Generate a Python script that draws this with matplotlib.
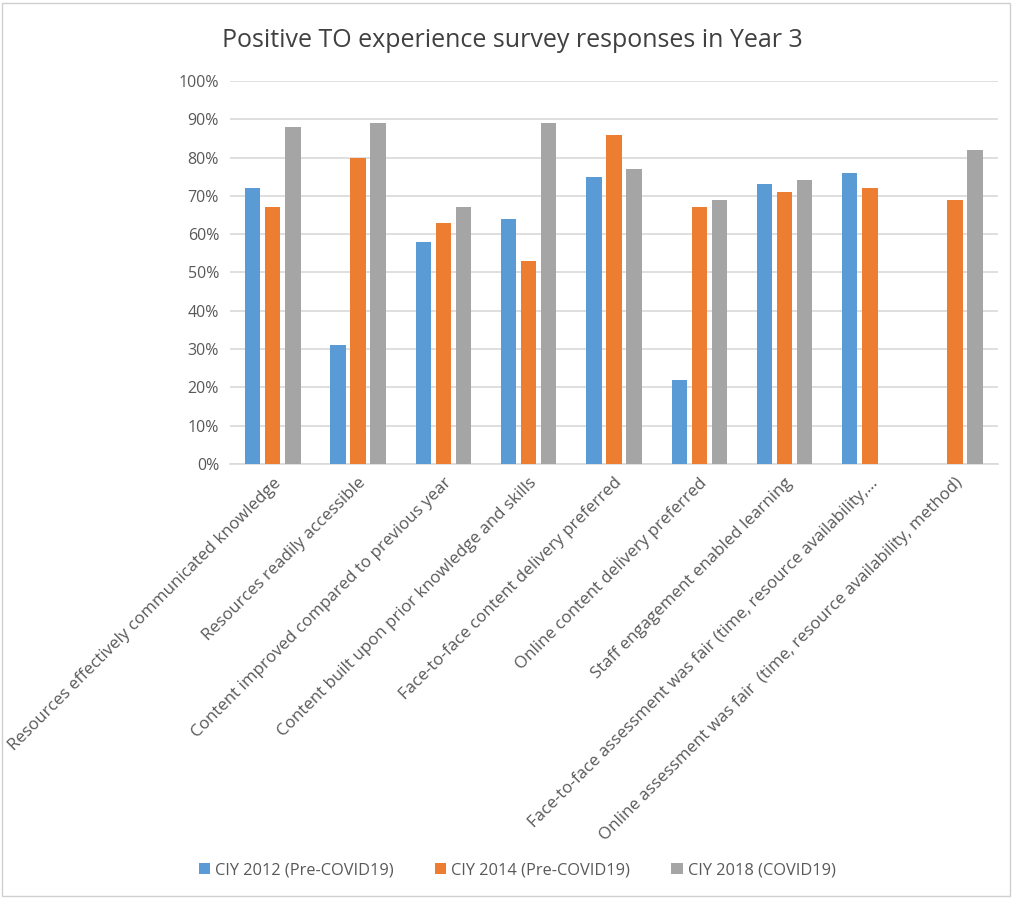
import matplotlib
matplotlib.use('Agg')
import matplotlib.pyplot as plt
import numpy as np

categories = [
    'Resources effectively communicated knowledge',
    'Resources readily accessible',
    'Content improved compared to previous year',
    'Content built upon prior knowledge and skills',
    'Face-to-face content delivery preferred',
    'Online content delivery preferred',
    'Staff engagement enabled learning',
    'Face-to-face assessment was fair (time, resource availability,\u2026',
    'Online assessment was fair  (time, resource availability, method)',
]
series_names = ['CIY 2012 (Pre-COVID19)', 'CIY 2014 (Pre-COVID19)', 'CIY 2018 (COVID19)']
ciy2012 = [72, 31, 58, 64, 75, 22, 73, 76, np.nan]
ciy2014 = [67, 80, 63, 53, 86, 67, 71, 72, 69]
ciy2018 = [88, 89, 67, 89, 77, 69, 74, np.nan, 82]
colors = ['#5B9BD5', '#ED7D31', '#A5A5A5']

plt.rcParams['font.family'] = ['Open Sans', 'DejaVu Sans']

fig = plt.figure(figsize=(10.14, 8.99), dpi=100)
ax = fig.add_axes([0.227, 0.484, 0.757, 0.426])

x = np.arange(len(categories))
w = 0.18
step = 0.235
for i, vals in enumerate([ciy2012, ciy2014, ciy2018]):
    ax.bar(x + (i - 1) * step, np.array(vals) / 100, w, color=colors[i],
           label=series_names[i], zorder=3)

ax.set_xlim(-0.5, len(categories) - 0.5)
ax.set_ylim(0, 1)
ax.set_yticks(np.arange(0, 1.01, 0.1))
ax.set_yticklabels([f'{int(round(v * 100))}%' for v in np.arange(0, 1.01, 0.1)],
                   fontsize=11.5, color='#595959')
ax.yaxis.grid(True, color='#D9D9D9', linewidth=1.2, zorder=0)
ax.set_xticks(x)
ax.set_xticklabels(categories, rotation=45, ha='right', rotation_mode='anchor',
                   fontsize=12.2, color='#595959')
ax.tick_params(axis='both', length=0, pad=8)
for s in ['top', 'right', 'left']:
    ax.spines[s].set_visible(False)
ax.spines['bottom'].set_color('#D9D9D9')
ax.spines['bottom'].set_linewidth(1.2)

fig.text(0.505, 0.955, 'Positive TO experience survey responses in Year 3',
         ha='center', va='center', fontsize=18, color='#404040')

fig.legend(loc='center', bbox_to_anchor=(0.51, 0.032), ncol=3, frameon=False,
           fontsize=11.8, handlelength=0.7, handleheight=0.7, columnspacing=2.5,
           handletextpad=0.3, labelcolor='#595959')

fig.patches.append(plt.Rectangle((0.002, 0.003), 0.994, 0.994, transform=fig.transFigure,
                                 fill=False, edgecolor='#D0D0D0', linewidth=1))

fig.savefig('out.png', dpi=100)
